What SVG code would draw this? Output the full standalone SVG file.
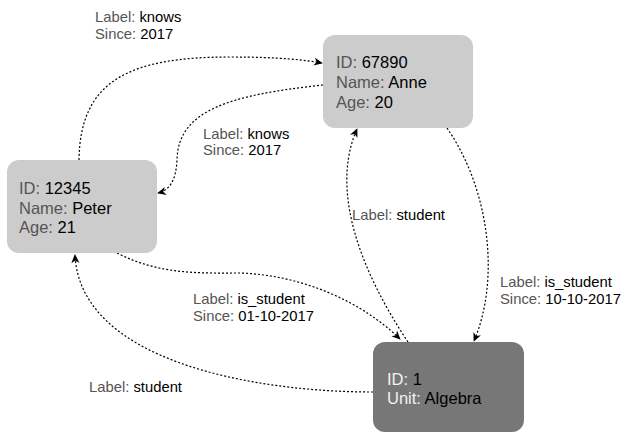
<svg xmlns="http://www.w3.org/2000/svg" width="623" height="433" viewBox="0 0 623 433">
<defs>
<marker id="arr" viewBox="0 0 10 10" refX="9" refY="5" markerWidth="10" markerHeight="9" markerUnits="userSpaceOnUse" orient="auto">
<path d="M0,0.5 L10,5 L0,9.5 L3,5 z" fill="#000"/>
</marker>
<style>
.light{fill:#cccccc;}
.dark{fill:#777777;}
.nt{font-family:"Liberation Sans",Arial,sans-serif;font-size:16.5px;fill:#000;}
.et{font-family:"Liberation Sans",Arial,sans-serif;font-size:14.8px;fill:#000;}
.k{fill:#555555;}
.kw{fill:#f2f2f2;}
.edge{fill:none;stroke:#000;stroke-width:1.2;stroke-dasharray:2 2;marker-end:url(#arr);}
</style>
</defs>
<rect width="623" height="433" fill="#ffffff"/>
<g id="connectors">
<path class="edge" d="M79,160 C80,80 130,57 230,57 C280,57 305,60 322,63"/>
<path class="edge" d="M323,85 C230,95 178,110 177,160 C176,180 170,190 158,193"/>
<path class="edge" d="M117,253 C160,275 200,273 240,273 C300,275 360,300 400,339"/>
<path class="edge" d="M408,342 C360,270 330,190 357,129"/>
<path class="edge" d="M447,128 C490,190 500,280 474,341"/>
<path class="edge" d="M373,392 C250,392 80,360 75,255"/>
</g>
<g id="edge-labels">
<text class="et" x="95" y="22"><tspan class="k">Label: </tspan>knows</text>
<text class="et" x="95" y="38.5"><tspan class="k">Since: </tspan>2017</text>
<text class="et" x="203" y="138.5"><tspan class="k">Label: </tspan>knows</text>
<text class="et" x="203" y="155"><tspan class="k">Since: </tspan>2017</text>
<text class="et" x="352" y="220"><tspan class="k">Label: </tspan>student</text>
<text class="et" x="500" y="287"><tspan class="k">Label: </tspan>is_student</text>
<text class="et" x="500" y="303.5"><tspan class="k">Since: </tspan>10-10-2017</text>
<text class="et" x="193" y="304"><tspan class="k">Label: </tspan>is_student</text>
<text class="et" x="193" y="321"><tspan class="k">Since: </tspan>01-10-2017</text>
<text class="et" x="89" y="392"><tspan class="k">Label: </tspan>student</text>
</g>
<g id="node-anne">
<rect class="light" x="323" y="35" width="150" height="93" rx="12"/>
<text class="nt" x="336" y="67.5"><tspan class="k">ID: </tspan>67890</text>
<text class="nt" x="336" y="87.5"><tspan class="k">Name: </tspan>Anne</text>
<text class="nt" x="336" y="107.5"><tspan class="k">Age: </tspan>20</text>
</g>
<g id="node-peter">
<rect class="light" x="7" y="160" width="150" height="93" rx="12"/>
<text class="nt" x="19" y="193.5"><tspan class="k">ID: </tspan>12345</text>
<text class="nt" x="19" y="213.5"><tspan class="k">Name: </tspan>Peter</text>
<text class="nt" x="19" y="233"><tspan class="k">Age: </tspan>21</text>
</g>
<g id="node-algebra">
<rect class="dark" x="373" y="342" width="151" height="90" rx="12"/>
<text class="nt" x="387" y="384.5"><tspan class="kw">ID: </tspan>1</text>
<text class="nt" x="387" y="404"><tspan class="kw">Unit: </tspan>Algebra</text>
</g>
</svg>
